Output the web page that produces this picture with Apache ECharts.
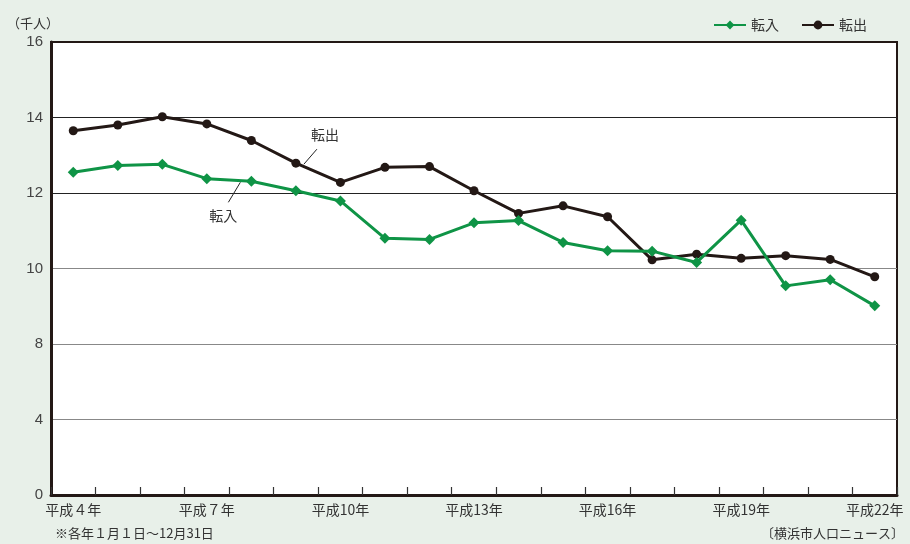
<!DOCTYPE html>
<html>
  <head>
    <meta charset="utf-8">
    <title>転入・転出の推移</title>
    <style>
      html, body {
        margin: 0;
        padding: 0;
        width: 100%;
        height: 100%;
        background: #e8f0e9;
      }
      #chart {
        width: 910px;
        height: 544px;
      }
    </style>
  </head>
  <body>
    <div id="chart"></div>
    <script src="https://cdn.jsdelivr.net/npm/echarts@6/dist/echarts.min.js"></script>
    <script>
      // 平成4年〜平成22年
      const years = ['平成４年', '平成５年', '平成６年', '平成７年', '平成８年', '平成９年', '平成10年',
        '平成11年', '平成12年', '平成13年', '平成14年', '平成15年', '平成16年', '平成17年',
        '平成18年', '平成19年', '平成20年', '平成21年', '平成22年'];

      // 千人
      const tenyu = [12.55, 12.73, 12.76, 12.38, 12.31, 12.06, 11.79, 10.80, 10.77, 11.21,
        11.27, 10.69, 10.47, 10.46, 10.16, 11.28, 9.54, 9.70, 9.01];
      const tenshutsu = [13.65, 13.80, 14.02, 13.83, 13.39, 12.79, 12.28, 12.68, 12.70, 12.06,
        11.46, 11.66, 11.37, 10.23, 10.38, 10.27, 10.34, 10.24, 9.78];

      // the axis is not linear: equal steps for 0,4,8 then 10,12,14,16
      const yTicks = [0, 4, 8, 10, 12, 14, 16];

      const toPos = v => {
        for (let i = 1; i < yTicks.length; i++) {
          if (v <= yTicks[i]) {
            return i - 1 + (v - yTicks[i - 1]) / (yTicks[i] - yTicks[i - 1]);
          }
        }
        return yTicks.length - 1;
      };

      const GREEN = '#0f9446';
      const DARK = '#231815';
      const FONT = '"Noto Sans CJK JP", sans-serif';

      const chart = echarts.init(document.getElementById('chart'));

      chart.setOption({
        backgroundColor: '#e8f0e9',
        textStyle: { fontFamily: FONT },
        animation: false,
        grid: {
          left: 51,
          right: 13,
          top: 42,
          bottom: 49,
          show: true,
          backgroundColor: '#ffffff',
          borderColor: DARK,
          borderWidth: 2
        },
        legend: {
          right: 38,
          top: 13,
          itemWidth: 32,
          itemHeight: 11,
          itemGap: 22,
          textStyle: { fontSize: 14, color: '#333', fontFamily: FONT },
          data: ['転入', '転出']
        },
        xAxis: {
          type: 'category',
          data: years,
          boundaryGap: true,
          axisLine: { show: true, lineStyle: { color: DARK, width: 3 } },
          axisTick: {
            show: true,
            inside: true,
            length: 8,
            interval: 0,
            lineStyle: { color: '#333', width: 1.2 }
          },
          axisLabel: {
            interval: 2,
            margin: 8,
            fontSize: 14,
            color: '#333',
            fontFamily: FONT
          },
          splitLine: { show: false }
        },
        yAxis: {
          type: 'value',
          min: 0,
          max: yTicks.length - 1,
          interval: 1,
          name: '（千人）',
          nameLocation: 'end',
          nameGap: 12,
          nameTextStyle: { fontSize: 13, color: '#333', align: 'right', padding: [0, -8, 0, 0], fontFamily: FONT },
          axisLine: { show: true, lineStyle: { color: DARK, width: 3 } },
          axisTick: { show: false },
          axisLabel: {
            margin: 8,
            fontSize: 15,
            color: '#444',
            fontFamily: 'Liberation Sans, sans-serif',
            formatter: v => String(yTicks[Math.round(v)])
          },
          splitLine: {
            show: true,
            lineStyle: {
              color: ['#888', '#888', '#888', '#888', '#222', '#222', DARK],
              width: 1.2
            }
          }
        },
        series: [
          {
            name: '転入',
            type: 'line',
            data: tenyu.map(toPos),
            symbol: 'diamond',
            symbolSize: 11,
            itemStyle: { color: GREEN },
            lineStyle: { color: GREEN, width: 3 },
            z: 3
          },
          {
            name: '転出',
            type: 'line',
            data: tenshutsu.map(toPos),
            symbol: 'circle',
            symbolSize: 9,
            itemStyle: { color: DARK },
            lineStyle: { color: DARK, width: 3 },
            z: 2
          }
        ]
      });

      // callout labels placed next to their points
      const p1 = chart.convertToPixel({ seriesIndex: 0 }, [4, toPos(tenyu[4])]);
      const p2 = chart.convertToPixel({ seriesIndex: 1 }, [5, toPos(tenshutsu[5])]);

      chart.setOption({
        graphic: [
          {
            type: 'line',
            shape: { x1: p1[0] - 11, y1: p1[1] + 1, x2: p1[0] - 23, y2: p1[1] + 21 },
            style: { stroke: '#222', lineWidth: 1 }
          },
          {
            type: 'text',
            x: p1[0] - 28,
            y: p1[1] + 34,
            style: { text: '転入', fontSize: 14, fill: '#333', fontFamily: FONT, align: 'center', verticalAlign: 'middle' }
          },
          {
            type: 'line',
            shape: { x1: p2[0] + 8, y1: p2[1] + 1, x2: p2[0] + 21, y2: p2[1] - 14 },
            style: { stroke: '#222', lineWidth: 1 }
          },
          {
            type: 'text',
            x: p2[0] + 29,
            y: p2[1] - 28,
            style: { text: '転出', fontSize: 14, fill: '#333', fontFamily: FONT, align: 'center', verticalAlign: 'middle' }
          },
          {
            type: 'text',
            left: 55,
            top: 527,
            style: { text: '※各年１月１日～12月31日', fontSize: 13, fill: '#333', fontFamily: FONT }
          },
          {
            type: 'text',
            right: 6,
            top: 527,
            style: { text: '〔横浜市人口ニュース〕', fontSize: 13, fill: '#333', fontFamily: FONT }
          }
        ]
      });
    </script>
  </body>
</html>
